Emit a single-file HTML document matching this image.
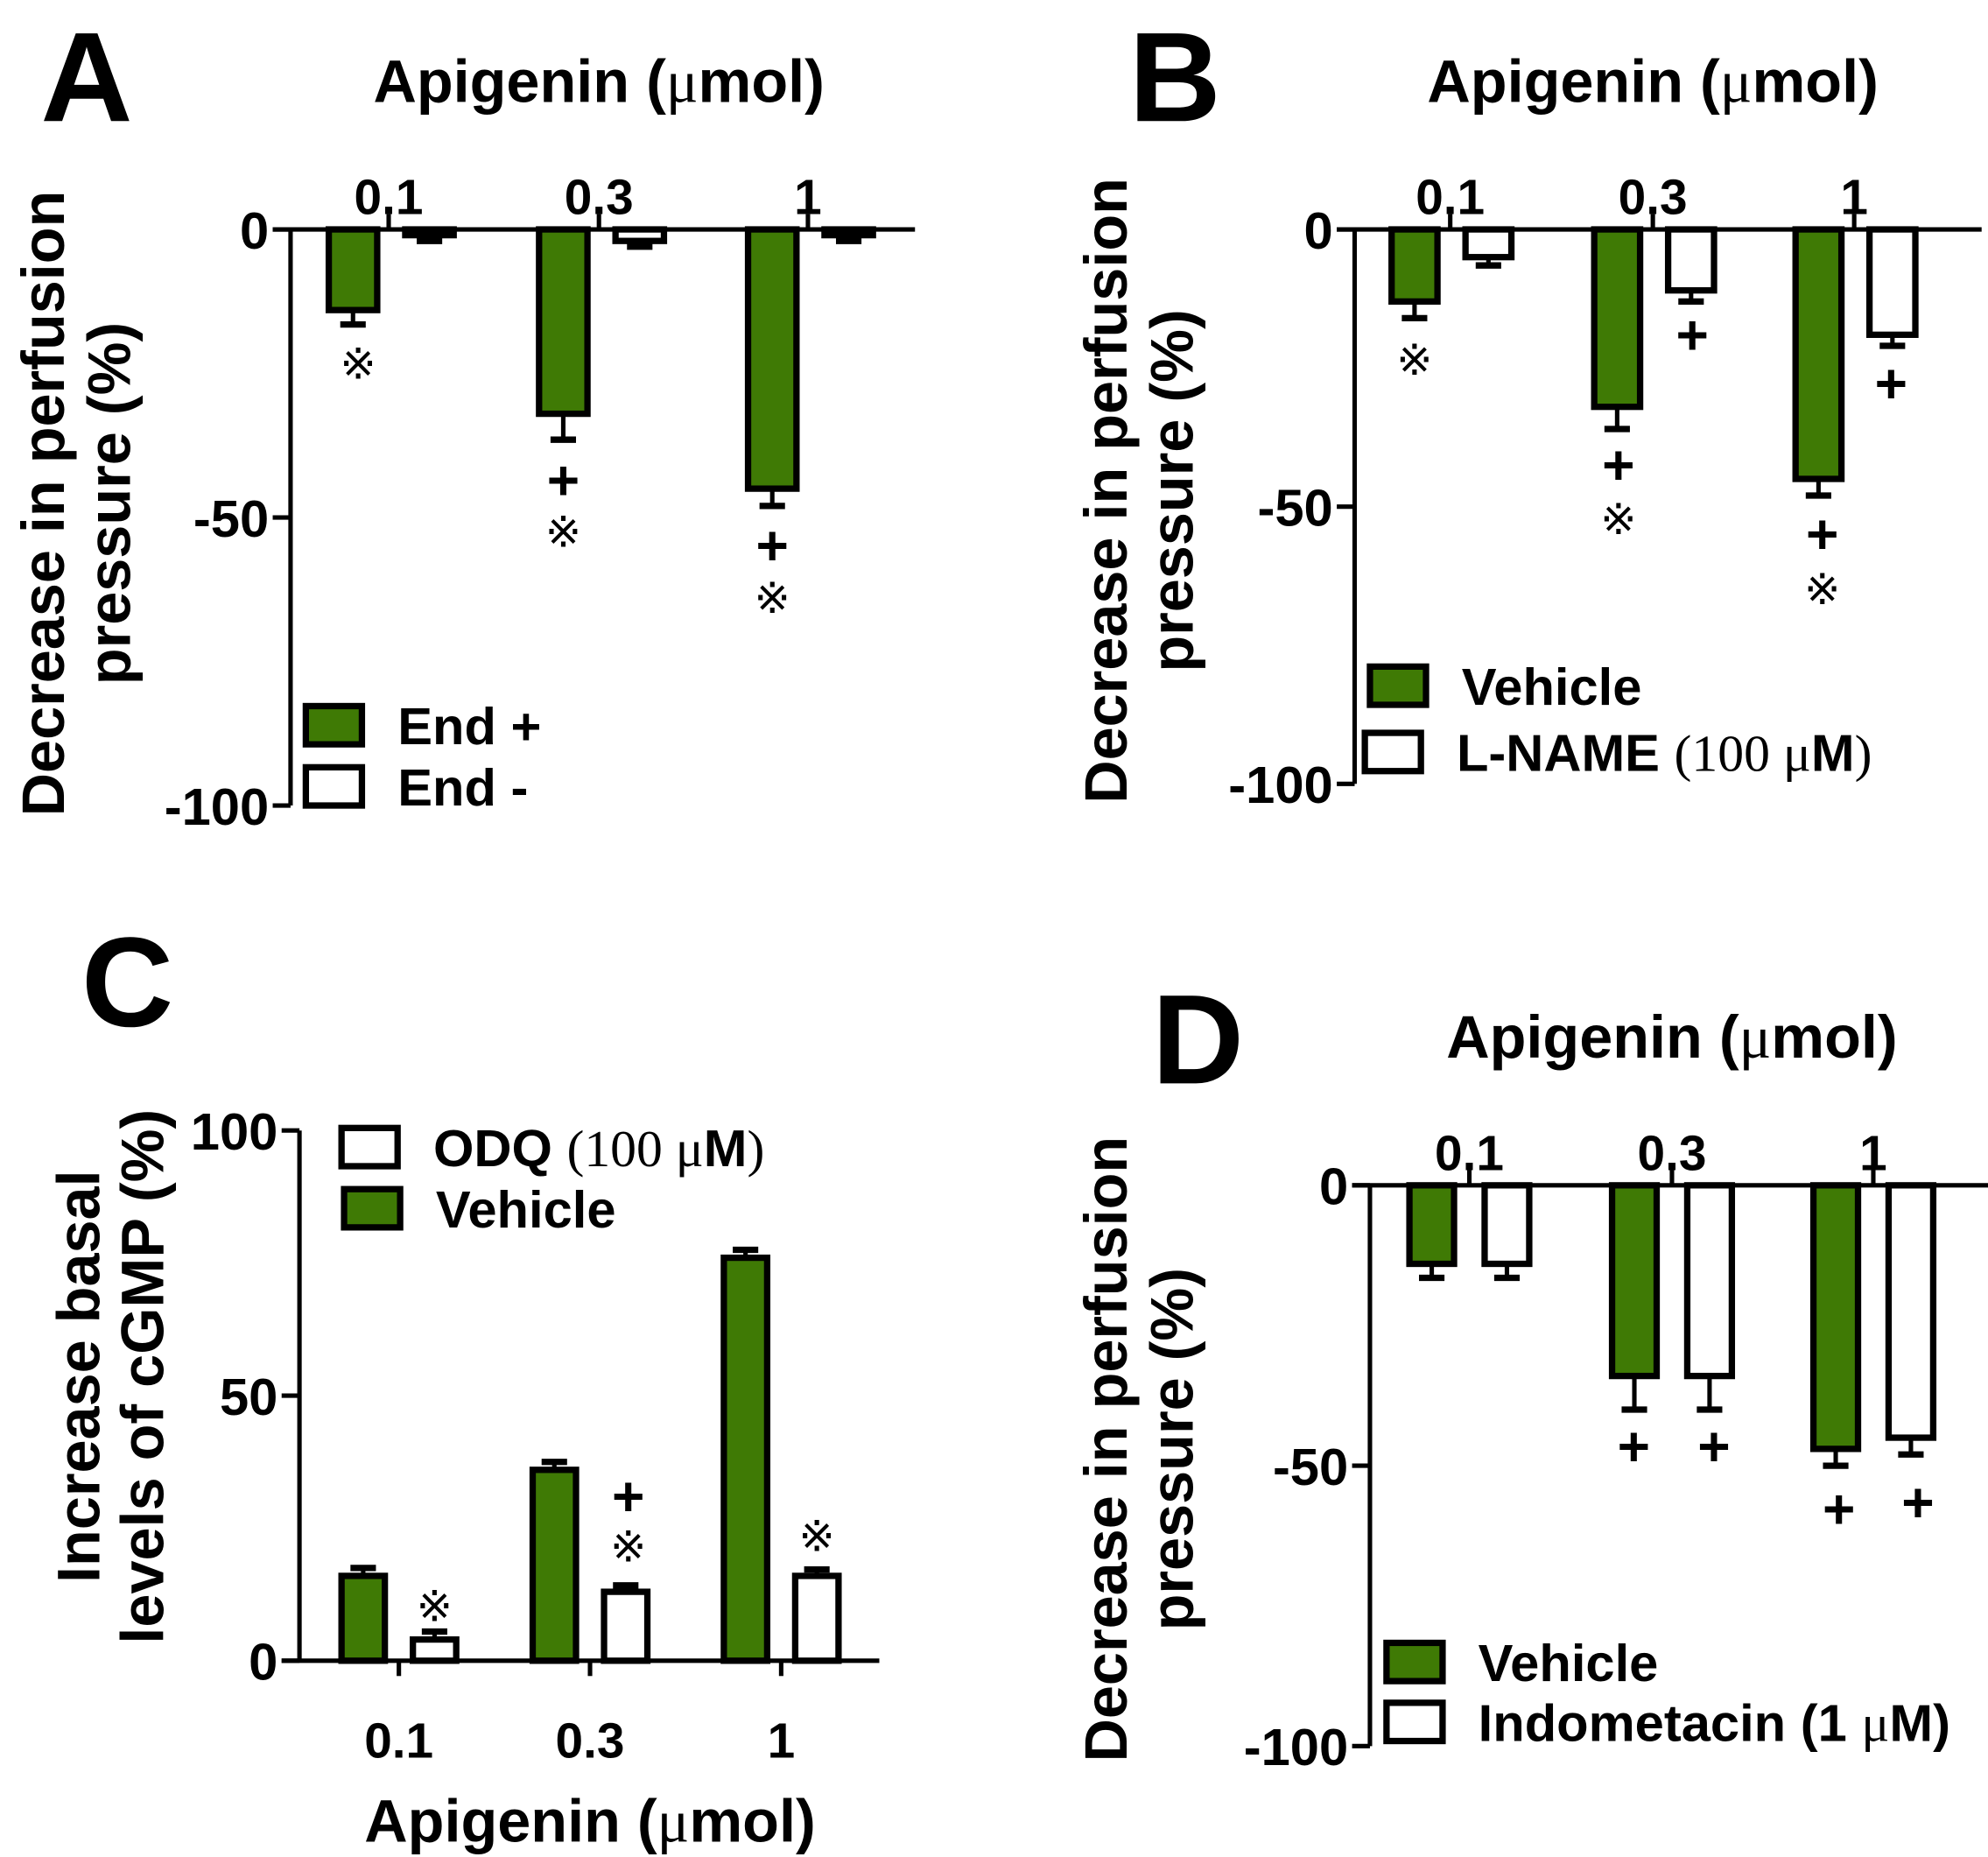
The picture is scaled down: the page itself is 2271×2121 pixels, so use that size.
<!DOCTYPE html>
<html><head><meta charset="utf-8"><style>
html,body{margin:0;padding:0;background:#fff;}
svg{display:block;}
text{font-family:"Liberation Sans",sans-serif;font-weight:bold;fill:#000;}
.serif{font-family:"Liberation Serif",serif;font-weight:normal;}
</style></head><body>
<svg id="fig" width="2271" height="2121" viewBox="0 0 1560 1457" preserveAspectRatio="none" xmlns="http://www.w3.org/2000/svg"></svg>
<script>
const categories = ["0.1", "0.3", "1"];
const aGreen = [-14, -32, -45];
const aGreenErr = [2.5, 4.5, 3];
const aWhite = [-1, -2, -1];
const aWhiteErr = [1, 1, 1];
const bGreen = [-13, -32, -45];
const bGreenErr = [3, 4, 3];
const bWhite = [-5, -11, -19];
const bWhiteErr = [1.5, 2, 2];
const cGreen = [16, 36, 76];
const cGreenErr = [1.5, 1.5, 1.5];
const cWhite = [4, 13, 16];
const cWhiteErr = [1.5, 1.2, 1.2];
const dGreen = [-14, -34, -47];
const dGreenErr = [2.5, 6, 3];
const dWhite = [-14, -34, -45];
const dWhiteErr = [2.5, 6, 3];
const negTicks = [0, -50, -100];
const posTicks = [0, 50, 100];

const NS = "http://www.w3.org/2000/svg";
const svg = document.getElementById("fig");
const GREEN = "#3f7a05";
function el(tag, attrs, parent) {
  const e = document.createElementNS(NS, tag);
  for (const k in attrs) e.setAttribute(k, attrs[k]);
  (parent || svg).appendChild(e);
  return e;
}
function txt(str, x, y, size, parent, anchor) {
  const t = el("text", {x: x, y: y, "font-size": size, "text-anchor": anchor || "middle"}, parent);
  t.textContent = str;
  return t;
}

function panel(cfg) {
  const g = el("g", {});
  
  
  const y = v => cfg.y0 + (v - cfg.v0) * (cfg.y1 - cfg.y0) / (cfg.v1 - cfg.v0);
  const L = txt(cfg.letter, cfg.letterX, cfg.letterY, 100, g);
  
  
  const ya = el("line", {x1: cfg.ax, y1: y(cfg.ticks[0]), x2: cfg.ax, y2: y(cfg.ticks[2]), stroke: "#000", "stroke-width": 3.5}, g);
  
  
  cfg.ticks.forEach(t => {
    const ty = y(t);
    el("line", {x1: cfg.ax - 14, y1: ty, x2: cfg.ax, y2: ty, stroke: "#000", "stroke-width": 3.5}, g);
    const tl = txt(String(t), cfg.ax - 17, ty + 15, 41, g, "end");
    
    
  });
  const by = y(0);
  const bl = el("line", {x1: cfg.ax - 14, y1: by, x2: cfg.baseEnd, y2: by, stroke: "#000", "stroke-width": 3.5}, g);
  
  
  categories.forEach((c, i) => {
    const cx = cfg.catX[i];
    const dir = cfg.top ? -1 : 1;
    el("line", {x1: cx, y1: by, x2: cx, y2: by + dir * 12, stroke: "#000", "stroke-width": 3.5}, g);
    const cl = txt(c, cx, cfg.top ? by - 12 : by + 76, 39, g);
    
    
  });
  const bw = cfg.bw;
  const series = [[cfg.green, cfg.greenErr, GREEN, cfg.gOff], [cfg.white, cfg.whiteErr, "#fff", cfg.wOff]];
  series.forEach((s, si) => {
    s[0].forEach((v, i) => {
      const x0 = cfg.catX[i] + s[3];
      const yt = Math.min(y(v), by), yb = Math.max(y(v), by);
      const sign = v >= 0 ? 1 : -1;
      const ey = y(v + sign * s[1][i]);
      const cxm = x0 + bw / 2;
      el("line", {x1: cxm, y1: y(v), x2: cxm, y2: ey, stroke: "#000", "stroke-width": 3.5}, g);
      el("line", {x1: cxm - 10, y1: ey, x2: cxm + 10, y2: ey, stroke: "#000", "stroke-width": 5}, g);
      const r = el("rect", {x: x0, y: yt, width: bw, height: Math.max(yb - yt, 1), fill: s[2], stroke: "#000", "stroke-width": 5}, g);
      
      
    });
  });
  if (cfg.title) {
    const t = el("text", {x: cfg.title[0], y: cfg.title[1], "font-size": 47, "text-anchor": "middle"}, g);
    [["Apigenin (", false], ["\u03bc", true], ["mol)", false]].forEach(p => {
      const sp = el("tspan", {}, t);
      if (p[1]) sp.setAttribute("class", "serif");
      sp.textContent = p[0];
    });
    
    
  }
  const yl = el("text", {transform: `translate(${cfg.ylX[0]},${cfg.ylY}) rotate(-90)`, "font-size": 47, "text-anchor": "middle"}, g);
  yl.textContent = cfg.ylab[0];
  
  
  const yl2 = el("text", {transform: `translate(${cfg.ylX[1]},${cfg.ylY}) rotate(-90)`, "font-size": 47, "text-anchor": "middle"}, g);
  yl2.textContent = cfg.ylab[1];
  
  
  cfg.legend.forEach(lg => {
    const lr = el("rect", {x: lg.x, y: lg.y, width: 44, height: 30, fill: lg.fill, stroke: "#000", "stroke-width": 5}, g);
    
    
    const lt = el("text", {x: lg.x + 72, y: lg.y + 30, "font-size": 41}, g);
    lg.parts.forEach(p => {
      const sp = el("tspan", {}, lt);
      if (p[1]) sp.setAttribute("class", "serif");
      sp.textContent = p[0];
    });
    
    
  });
  cfg.ann.forEach(a => {
    const at = txt(a[0], a[1], a[2], a[0] === "+" ? 44 : 34, g);
    if (a[0] !== "+") at.setAttribute("class", "serif");
    
    
  });
}

panel({name: "panel-a", letter: "A", letterX: 68, letterY: 95, ax: 228, y0: 180, y1: 632, v0: 0, v1: -100, ticks: negTicks,
  baseEnd: 718, catX: [305, 470, 634], top: true, bw: 38, gOff: -47, wOff: 13,
  green: aGreen, greenErr: aGreenErr, white: aWhite, whiteErr: aWhiteErr,
  title: [470, 80], ylab: ["Decrease in perfusion", "pressure (%)"], ylX: [50, 102], ylY: 395,
  legend: [{x: 240, y: 554, fill: GREEN, parts: [["End +", false]]}, {x: 240, y: 602, fill: "#fff", parts: [["End -", false]]}],
  ann: [["\u203b", 281, 297], ["+", 442, 392], ["\u203b", 442, 429], ["+", 606, 443], ["\u203b", 606, 481]]});

panel({name: "panel-b", letter: "B", letterX: 922, letterY: 95, ax: 1063, y0: 180, y1: 615, v0: 0, v1: -100, ticks: negTicks,
  baseEnd: 1555, catX: [1138, 1297, 1455], top: true, bw: 36, gOff: -46, wOff: 12,
  green: bGreen, greenErr: bGreenErr, white: bWhite, whiteErr: bWhiteErr,
  title: [1297, 80], ylab: ["Decrease in perfusion", "pressure (%)"], ylX: [884, 936], ylY: 385,
  legend: [{x: 1075, y: 523, fill: GREEN, parts: [["Vehicle", false]]}, {x: 1071, y: 575, fill: "#fff", parts: [["L-NAME ", false], ["(100 \u03bc", true], ["M", false], [")", true]]}],
  ann: [["\u203b", 1110, 294], ["+", 1328, 278], ["+", 1270, 380], ["\u203b", 1270, 419], ["+", 1484, 316], ["+", 1430, 434], ["\u203b", 1430, 474]]});

panel({name: "panel-c", letter: "C", letterX: 100, letterY: 805, ax: 235, y0: 1303, y1: 887, v0: 0, v1: 100, ticks: posTicks,
  baseEnd: 690, catX: [313, 463, 613], top: false, bw: 34, gOff: -45, wOff: 11,
  green: cGreen, greenErr: cGreenErr, white: cWhite, whiteErr: cWhiteErr,
  title: null, ylab: ["Increase basal", "levels of cGMP (%)"], ylX: [78, 128], ylY: 1080,
  legend: [{x: 268, y: 885, fill: "#fff", parts: [["ODQ ", false], ["(100 \u03bc", true], ["M", false], [")", true]]}, {x: 270, y: 933, fill: GREEN, parts: [["Vehicle", false]]}],
  ann: [["\u203b", 341, 1272], ["+", 493, 1189], ["\u203b", 493, 1225], ["\u203b", 641, 1217]]});
{
  const xt = el("text", {x: 463, y: 1445, "font-size": 47, "text-anchor": "middle"});
  [["Apigenin (", false], ["\u03bc", true], ["mol)", false]].forEach(p => {
    const sp = el("tspan", {}, xt); if (p[1]) sp.setAttribute("class", "serif"); sp.textContent = p[0];
  });
  
  
}

panel({name: "panel-d", letter: "D", letterX: 940, letterY: 850, ax: 1075, y0: 930, y1: 1370, v0: 0, v1: -100, ticks: negTicks,
  baseEnd: 1560, catX: [1153, 1312, 1470], top: true, bw: 35, gOff: -47, wOff: 12,
  green: dGreen, greenErr: dGreenErr, white: dWhite, whiteErr: dWhiteErr,
  title: [1312, 830], ylab: ["Decrease in perfusion", "pressure (%)"], ylX: [884, 936], ylY: 1137,
  legend: [{x: 1088, y: 1289, fill: GREEN, parts: [["Vehicle", false]]}, {x: 1088, y: 1336, fill: "#fff", parts: [["Indometacin (1 ", false], ["\u03bc", true], ["M)", false]]}],
  ann: [["+", 1282, 1150], ["+", 1345, 1150], ["+", 1443, 1199], ["+", 1505, 1194]]});
</script>
</body></html>
